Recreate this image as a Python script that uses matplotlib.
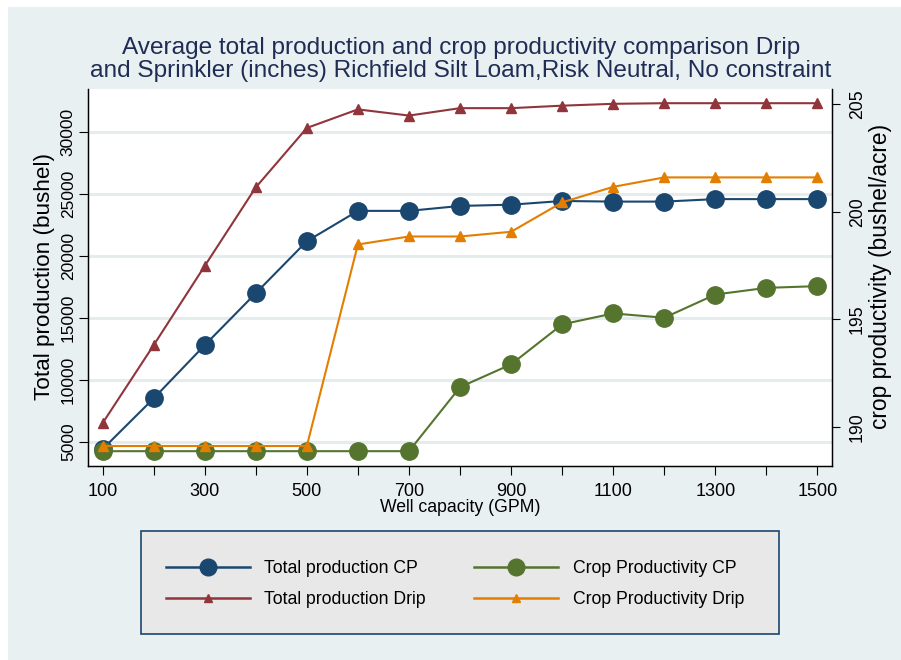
import matplotlib
matplotlib.use("Agg")
import matplotlib.pyplot as plt
from matplotlib.lines import Line2D
from matplotlib.patches import Rectangle

# Well capacity (GPM)
capacity = [100, 200, 300, 400, 500, 600, 700, 800, 900, 1000, 1100, 1200, 1300, 1400, 1500]

# Total production (bushel) - left axis
total_cp = [4400, 8500, 12800, 17000, 21200, 23650, 23650, 24050, 24150, 24450, 24400, 24400, 24600, 24600, 24600]
total_drip = [6500, 12800, 19200, 25550, 30350, 31850, 31350, 31950, 31950, 32150, 32300, 32350, 32350, 32350, 32350]

# Crop productivity (bushel/acre) - right axis
crop_cp = [188.86, 188.86, 188.86, 188.86, 188.86, 188.86, 188.86, 191.84, 192.9, 194.76, 195.27, 195.07, 196.15, 196.46, 196.54]
crop_drip = [189.1, 189.1, 189.1, 189.1, 189.1, 198.48, 198.85, 198.85, 199.07, 200.44, 201.16, 201.6, 201.6, 201.6, 201.6]

left_ticks = [5000, 10000, 15000, 20000, 25000, 30000]
right_ticks = [190, 195, 200, 205]
x_ticks = list(range(100, 1501, 100))
x_labels = [str(v) if (v // 100) % 2 == 1 else "" for v in x_ticks]

title = ("Average total production and crop productivity comparison Drip\n"
         "and Sprinkler (inches) Richfield Silt Loam,Risk Neutral, No constraint")
legend_labels = ["Total production CP", "Total production Drip",
                 "Crop Productivity CP", "Crop Productivity Drip"]

NAVY = "#1A476F"
MAROON = "#90353B"
GREEN = "#55752F"
ORANGE = "#E37E00"
BG = "#E9F0F2"
GRID = "#E4ECEE"

plt.rcParams["font.family"] = ["Liberation Sans", "DejaVu Sans"]

W, H = 901, 660
fig = plt.figure(figsize=(W / 100, H / 100), dpi=100, facecolor="white")


def fx(px):
    return px / W


def fy(py):
    return 1 - py / H


# outer graph region
fig.patches.append(Rectangle((fx(8), 0), 1 - fx(8), fy(7), transform=fig.transFigure,
                             facecolor=BG, edgecolor="none", zorder=-10))

left, right, top, bottom = 88.3, 832.3, 89.3, 466.0
ax = fig.add_axes([fx(left), fy(bottom), fx(right - left), fy(top) - fy(bottom)])
ax.set_facecolor("white")
ax2 = ax.twinx()

ax.plot(capacity, total_cp, color=NAVY, lw=1.5, marker="o", ms=12.5, zorder=3)
ax.plot(capacity, total_drip, color=MAROON, lw=1.5, marker="^", ms=7.5, zorder=3)
ax2.plot(capacity, crop_cp, color=GREEN, lw=1.5, marker="o", ms=12.5, zorder=3)
ax2.plot(capacity, crop_drip, color=ORANGE, lw=1.5, marker="^", ms=7.5, zorder=3)

ax.set_xlim(72, 1529)
ax.set_ylim(3037, 33473)
ax2.set_ylim(188.17, 205.70)

ax.set_yticks(left_ticks)
ax.set_yticklabels([str(v) for v in left_ticks])
ax2.set_yticks(right_ticks)
ax2.set_yticklabels([str(v) for v in right_ticks])
ax.set_xticks(x_ticks)
ax.set_xticklabels(x_labels)

ax.grid(axis="y", color=GRID, lw=2.2, zorder=0)
ax.set_axisbelow(True)

for a in (ax, ax2):
    a.spines["top"].set_visible(False)
    for s in ("left", "right", "bottom"):
        a.spines[s].set_linewidth(0.9)
        a.spines[s].set_color("black")

ax.tick_params(axis="x", length=6.5, width=0.8, labelsize=13, pad=5.5)
ax.tick_params(axis="y", length=6.5, width=0.8, labelsize=12.5, pad=2.5, labelrotation=90)
ax2.tick_params(axis="y", length=6, width=0.8, labelsize=12.7, pad=6, labelrotation=90)
for lab in ax.get_yticklabels() + ax2.get_yticklabels():
    lab.set_va("center")

fig.text(fx(460), fy(507), "Well capacity (GPM)", ha="center", va="center", fontsize=12.7)
fig.text(fx(44.5), fy(276), "Total production (bushel)", rotation=90,
         ha="center", va="center", fontsize=16.2)
fig.text(fx(881), fy(276), "crop productivity (bushel/acre)", rotation=90,
         ha="center", va="center", fontsize=16.4)
fig.text(fx(461), fy(59.5), title, ha="center", va="center", fontsize=17.6,
         color="#1F2D55", linespacing=1.06)

# legend box
fig.patches.append(Rectangle((fx(141), fy(634.3)), fx(779 - 141), fy(530.7) - fy(634.3),
                             transform=fig.transFigure, facecolor="#E8E8E8",
                             edgecolor=NAVY, lw=1.2, zorder=1))
handles = [
    Line2D([], [], color=NAVY, lw=1.8, marker="o", ms=12),
    Line2D([], [], color=MAROON, lw=1.8, marker="^", ms=6),
    Line2D([], [], color=GREEN, lw=1.8, marker="o", ms=12),
    Line2D([], [], color=ORANGE, lw=1.8, marker="^", ms=6),
]
leg = fig.legend(handles, legend_labels, ncol=2, loc="upper left",
                 bbox_to_anchor=(fx(165.7), fy(560)), frameon=False,
                 fontsize=12.7, handlelength=4.8, handletextpad=0.8,
                 columnspacing=2.7, labelspacing=0.78, borderpad=0, borderaxespad=0)
leg.set_zorder(2)

fig.savefig("out.png", dpi=100, facecolor="white")
